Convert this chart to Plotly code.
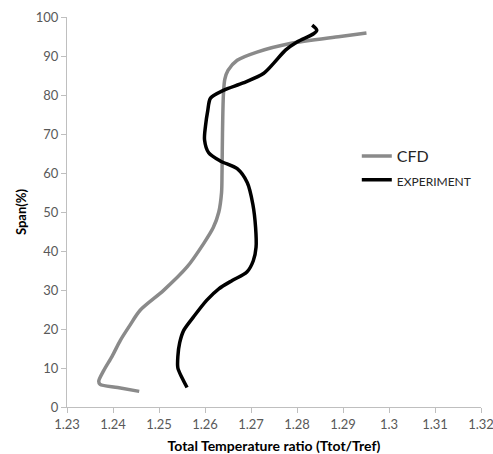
import plotly.graph_objects as go

cfd_x = [1.2457, 1.2410, 1.2372, 1.2369, 1.2380, 1.2398, 1.2416, 1.2437, 1.2459, 1.2510, 1.2561,
         1.2597, 1.2618, 1.2630, 1.2636, 1.2637, 1.2638, 1.2640, 1.2643, 1.2650, 1.2670, 1.2713,
         1.2785, 1.2894, 1.2951]
cfd_y = [4.0, 5.0, 5.8, 6.6, 9.4, 13.0, 17.1, 21.0, 24.8, 29.9, 35.9,
         41.9, 46.0, 50.0, 55.0, 60.0, 70.0, 80.0, 84.0, 86.3, 88.9, 91.0,
         93.2, 95.0, 95.9]

exp_x = [1.2561, 1.2550, 1.2541, 1.2541, 1.2545, 1.2554, 1.2575, 1.2604, 1.2630, 1.2660, 1.2691,
         1.2705, 1.2711, 1.2710, 1.2704, 1.2692, 1.2670, 1.2633, 1.2608, 1.2599, 1.2601, 1.2606,
         1.2612, 1.2640, 1.2683, 1.2727, 1.2749, 1.2775, 1.2800, 1.2836, 1.2843, 1.2833]
exp_y = [5.0, 7.5, 10.0, 13.0, 16.5, 19.7, 23.1, 27.4, 30.3, 32.5, 34.6,
         37.5, 41.0, 46.0, 52.0, 57.5, 61.1, 63.1, 65.2, 68.5, 72.0, 76.0,
         79.2, 81.2, 83.1, 85.5, 88.1, 91.5, 93.6, 95.7, 96.6, 97.9]

x_ticks = [1.23, 1.24, 1.25, 1.26, 1.27, 1.28, 1.29, 1.3, 1.31, 1.32]
x_tick_labels = ["1.23", "1.24", "1.25", "1.26", "1.27", "1.28", "1.29", "1.3", "1.31", "1.32"]
y_ticks = [0, 10, 20, 30, 40, 50, 60, 70, 80, 90, 100]

fig = go.Figure()
fig.add_trace(go.Scatter(x=cfd_x, y=cfd_y, mode="lines", name="<span style='font-size:16px'>CFD</span>",
                         line=dict(color="#8a8a8a", width=3.5, shape="spline", smoothing=0.8)))
fig.add_trace(go.Scatter(x=exp_x, y=exp_y, mode="lines", name="<span style='font-size:12px'>EXPERIMENT</span>",
                         line=dict(color="#000000", width=3.5, shape="spline", smoothing=0.8)))

FONT = "Lato, Open Sans, sans-serif"
axis_font = dict(family=FONT, size=13, color="#595959")
fig.update_layout(
    width=493, height=454,
    margin=dict(l=67, r=12, t=17, b=47),
    paper_bgcolor="white", plot_bgcolor="white",
    showlegend=True,
    legend=dict(x=0.7, y=0.687, xanchor="left", yanchor="top",
                font=dict(family=FONT, size=16, color="#262626"),
                bgcolor="rgba(0,0,0,0)", itemwidth=30),
    xaxis=dict(range=[1.23, 1.32], tickvals=x_ticks, ticktext=x_tick_labels, automargin=False,
               ticklabeloverflow="allow",
               showgrid=False, zeroline=False, showline=True, linecolor="#bfbfbf", linewidth=1,
               ticks="outside", ticklen=5, tickcolor="#bfbfbf", tickfont=axis_font,
               title=dict(text="<b>Total Temperature ratio (Ttot/Tref)</b>", standoff=13,
                          font=dict(family=FONT, size=14, color="#000000"))),
    yaxis=dict(range=[0, 100], tickvals=y_ticks, automargin=False,
               ticklabeloverflow="allow",
               showgrid=False, zeroline=False, showline=True, linecolor="#bfbfbf", linewidth=1,
               ticks="outside", ticklen=5, tickcolor="#bfbfbf", tickfont=axis_font,
               title=dict(text="<b>Span(%)</b>", standoff=6,
                          font=dict(family=FONT, size=13, color="#000000"))),
)

fig.write_html("out.html", config={"displayModeBar": False},
               post_script="document.body.style.margin='0';")
